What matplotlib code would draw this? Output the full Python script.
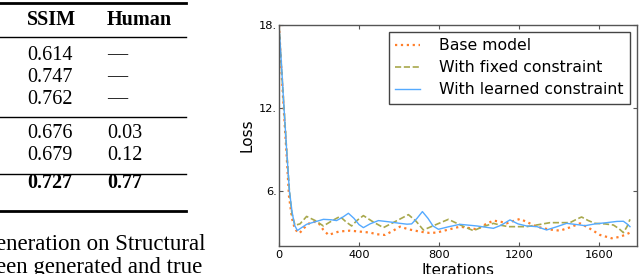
import matplotlib
matplotlib.use("Agg")
import matplotlib.pyplot as plt
from matplotlib.lines import Line2D

W, H = 640, 274

# table on the left (cropped from a paper page)
ssim_vals = ["0.614", "0.747", "0.762", "0.676", "0.679", "0.727"]
human_vals = ["\u2014", "\u2014", "\u2014", "0.03", "0.12", "0.77"]
row_y = [55, 77, 99, 133, 155, 183]
caption = ["eneration on Structural", "een generated and true"]

# loss curves
base_x = [0, 12, 25, 38, 50, 65, 80, 102, 125, 155, 175, 197, 220, 247, 300, 355, 400,
          455, 490, 530, 570, 605, 650, 705, 750, 788, 850, 905, 950, 988, 1030, 1072,
          1110, 1138, 1170, 1205, 1245, 1288, 1350, 1405, 1455, 1505, 1550, 1605, 1663,
          1700, 1730, 1755]
base_y = [18.0, 14.8, 11.6, 8.6, 5.6, 4.0, 3.2, 2.92, 3.3, 3.69, 3.75, 3.69, 3.2, 2.8,
          3.05, 3.11, 3.05, 2.97, 2.85, 2.8, 3.1, 3.4, 3.2, 3.04, 2.95, 2.97, 3.2, 3.4,
          3.3, 3.21, 3.55, 3.84, 3.75, 3.64, 3.8, 3.96, 3.7, 3.4, 3.2, 3.11, 3.35, 3.64,
          3.3, 2.8, 2.56, 2.65, 2.8, 2.97]

fixed_x = [0, 12, 25, 38, 52, 65, 80, 105, 138, 180, 222, 262, 305, 335, 363, 390, 422,
           470, 522, 585, 647, 685, 722, 785, 847, 910, 972, 1020, 1072, 1110, 1147,
           1238, 1300, 1355, 1455, 1490, 1513, 1545, 1580, 1630, 1672, 1700, 1722, 1740,
           1755]
fixed_y = [18.0, 15.0, 12.0, 9.0, 6.0, 4.3, 3.5, 3.6, 4.14, 3.85, 3.45, 3.8, 4.14, 3.75,
           3.45, 3.85, 4.2, 3.75, 3.33, 3.8, 4.27, 3.8, 3.16, 3.55, 3.93, 3.5, 3.11, 3.4,
           3.64, 3.5, 3.4, 3.4, 3.55, 3.69, 3.69, 3.95, 4.1, 3.85, 3.64, 3.6, 3.52, 3.25,
           2.97, 3.4, 3.93]

learned_x = [0, 12, 25, 38, 52, 65, 78, 92, 110, 138, 180, 222, 260, 288, 320, 347, 375,
             400, 422, 455, 497, 550, 605, 640, 663, 690, 717, 745, 770, 797, 850, 905,
             990, 1072, 1110, 1155, 1195, 1238, 1290, 1338, 1390, 1438, 1490, 1530, 1580,
             1638, 1690, 1722, 1740, 1755]
learned_y = [18.0, 15.2, 12.0, 9.0, 6.0, 4.5, 3.5, 3.12, 3.3, 3.57, 3.75, 3.93, 3.9,
             3.84, 4.1, 4.37, 4.0, 3.55, 3.33, 3.6, 3.84, 3.75, 3.64, 3.58, 3.6, 4.0, 4.49,
             4.0, 3.45, 3.21, 3.4, 3.57, 3.45, 3.28, 3.5, 3.89, 3.6, 3.45, 3.4, 3.16, 3.4,
             3.64, 3.55, 3.47, 3.6, 3.69, 3.78, 3.79, 3.6, 3.4]

x_ticks = [0, 400, 800, 1200, 1600]
y_ticks = [6, 12, 18]
y_tick_labels = ["6.", "12.", "18."]


def fx(px):
    return px / W


def fy(py):
    return 1 - py / H


fig = plt.figure(figsize=(6.4, 2.74), dpi=100)

serif = ["Liberation Serif", "DejaVu Serif"]
fig.text(fx(27), fy(20), "SSIM", family=serif, fontsize=14.5, weight="bold",
         va="center", ha="left")
fig.text(fx(107), fy(20), "Human", family=serif, fontsize=14.5, weight="bold",
         va="center", ha="left")
for i, (s, h) in enumerate(zip(ssim_vals, human_vals)):
    wt = "bold" if i == len(ssim_vals) - 1 else "normal"
    fig.text(fx(27), fy(row_y[i]), s, family=serif, fontsize=14.5, weight=wt,
             va="center", ha="left")
    fig.text(fx(107), fy(row_y[i]), h, family=serif, fontsize=14.5, weight=wt,
             va="center", ha="left")
for k, line in enumerate(caption):
    fig.text(fx(-4), fy(245 + 23 * k), line, family=serif, fontsize=16.5,
             va="center", ha="left")

for py, lw in [(3, 2.0), (37, 1.0), (117, 1.0), (174, 1.0), (211, 2.0)]:
    fig.add_artist(Line2D([0, fx(186)], [fy(py), fy(py)], color="black", lw=lw))

# the chart
ax = fig.add_axes([fx(279), fy(246), fx(637) - fx(279), fy(25) - fy(246)])
ax.plot(base_x, base_y, color="#ff7f2a", ls=":", lw=1.6, label="Base model")
ax.plot(fixed_x, fixed_y, color="#a8a84c", ls="--", lw=1.2, label="With fixed constraint")
ax.plot(learned_x, learned_y, color="#55aaff", ls="-", lw=1.0, label="With learned constraint")

ax.set_xlim(0, 1790)
ax.set_ylim(2, 18)
ax.set_xticks(x_ticks)
ax.set_yticks(y_ticks)
ax.set_yticklabels(y_tick_labels)
ax.tick_params(direction="in", length=3, width=0.8, color="#555555",
               top=True, right=True, labelsize=8.2)
ax.tick_params(axis="y", pad=1.5)
ax.tick_params(axis="x", pad=3)
for sp in ax.spines.values():
    sp.set_color("#555555")
    sp.set_linewidth(1.0)

ax.set_xlabel("Iterations", fontsize=11, labelpad=2)
ax.set_ylabel("Loss", fontsize=11, labelpad=3)

leg = ax.legend(loc="upper right", bbox_to_anchor=(0.98, 0.968), fontsize=11.3,
                fancybox=False, framealpha=1, edgecolor="#444444",
                handlelength=1.6, handletextpad=1.2, borderpad=0.4,
                labelspacing=0.45, borderaxespad=0)
leg.get_frame().set_linewidth(1.0)

fig.savefig("out.png", dpi=100)
